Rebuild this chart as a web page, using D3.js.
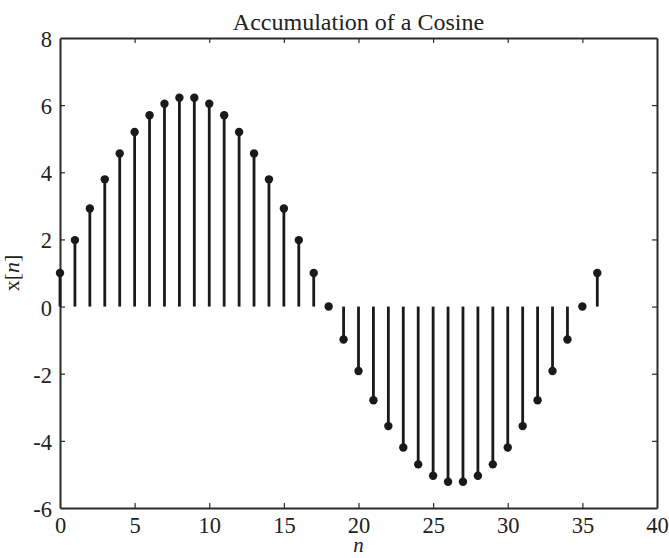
<!DOCTYPE html>
<html>
<head>
<meta charset="utf-8">
<script src="https://cdn.jsdelivr.net/npm/d3@7"></script>
<style>
  body { margin: 0; background: #fff; }
  text { font-family: "Liberation Serif", "Times New Roman", serif; fill: #222; }
</style>
</head>
<body>
<svg id="chart" width="669" height="558"></svg>
<script>
const nValues = [0,1,2,3,4,5,6,7,8,9,10,11,12,13,14,15,16,17,18,19,20,21,22,23,24,25,26,27,28,29,30,31,32,33,34,35,36];
const xValues = [1.00,1.98,2.92,3.79,4.56,5.20,5.70,6.04,6.22,6.22,6.04,5.70,5.20,4.56,3.79,2.92,1.98,1.00,
                 0.00,-0.98,-1.92,-2.79,-3.56,-4.20,-4.70,-5.04,-5.22,-5.22,-5.04,-4.70,-4.20,-3.56,-2.79,-1.92,-0.98,0.00,1.00];
const xTicks = [0,5,10,15,20,25,30,35,40];
const yTicks = [-6,-4,-2,0,2,4,6,8];
const titleText = "Accumulation of a Cosine";

const data = nValues.map((n, i) => ({n, v: xValues[i]}));

const svg = d3.select("#chart");
const pLeft = 60, pRight = 657, pTop = 38, pBottom = 508;
const x = d3.scaleLinear().domain([0, 40]).range([pLeft, pRight]);
const y = d3.scaleLinear().domain([-6, 8]).range([pBottom, pTop]);
const axisColor = "#2a2a2a";
const tickLen = 5;
const fmt = d => String(d);

// axes
const gB = svg.append("g").attr("transform", `translate(0,${pBottom})`)
  .call(d3.axisBottom(x).tickValues(xTicks).tickFormat(fmt).tickSizeInner(-tickLen).tickSizeOuter(0).tickPadding(9));
const gT = svg.append("g").attr("transform", `translate(0,${pTop})`)
  .call(d3.axisTop(x).tickValues(xTicks).tickSizeInner(-tickLen).tickSizeOuter(0).tickFormat(""));
const gL = svg.append("g").attr("transform", `translate(${pLeft},0)`)
  .call(d3.axisLeft(y).tickValues(yTicks).tickFormat(fmt).tickSizeInner(-tickLen).tickSizeOuter(0).tickPadding(8));
const gR = svg.append("g").attr("transform", `translate(${pRight},0)`)
  .call(d3.axisRight(y).tickValues(yTicks).tickSizeInner(-tickLen).tickSizeOuter(0).tickFormat(""));

[gB, gT, gL, gR].forEach(g => {
  g.select(".domain").attr("stroke", axisColor).attr("stroke-width", 2);
  g.selectAll(".tick line").attr("stroke", axisColor).attr("stroke-width", 1.2);
  g.selectAll(".tick text").style("font-family", "'Liberation Serif', serif").style("font-size", "22.5px").attr("fill", "#222");
});
// remove end ticks overlapping the frame
gB.selectAll(".tick").filter(d => d === 0 || d === 40).select("line").remove();
gT.selectAll(".tick").filter(d => d === 0 || d === 40).select("line").remove();
gL.selectAll(".tick").filter(d => d === -6 || d === 8).select("line").remove();
gR.selectAll(".tick").filter(d => d === -6 || d === 8).select("line").remove();
gB.selectAll(".tick text").attr("dy", "0.7em");
gL.selectAll(".tick text").attr("dy", "0.38em");

// stems
svg.append("g").selectAll("line").data(data).join("line")
  .attr("x1", d => x(d.n)).attr("x2", d => x(d.n))
  .attr("y1", y(0)).attr("y2", d => y(d.v))
  .attr("stroke", "#1a1a1a").attr("stroke-width", 2.8);
svg.append("g").selectAll("circle").data(data).join("circle")
  .attr("cx", d => x(d.n)).attr("cy", d => y(d.v)).attr("r", 4.2)
  .attr("fill", "#1a1a1a");

// title and labels
svg.append("text").attr("x", (pLeft + pRight) / 2).attr("y", 30)
  .attr("text-anchor", "middle").style("font-size", "24px").text(titleText);
svg.append("text").attr("x", (pLeft + pRight) / 2).attr("y", 552)
  .attr("text-anchor", "middle").style("font-size", "21px").style("font-style", "italic").text("n");
const yl = svg.append("text").attr("transform", `translate(19,${(pTop + pBottom) / 2}) rotate(-90)`)
  .attr("text-anchor", "middle").style("font-size", "22px");
yl.append("tspan").text("x[");
yl.append("tspan").style("font-style", "italic").text("n");
yl.append("tspan").text("]");
</script>
</body>
</html>
